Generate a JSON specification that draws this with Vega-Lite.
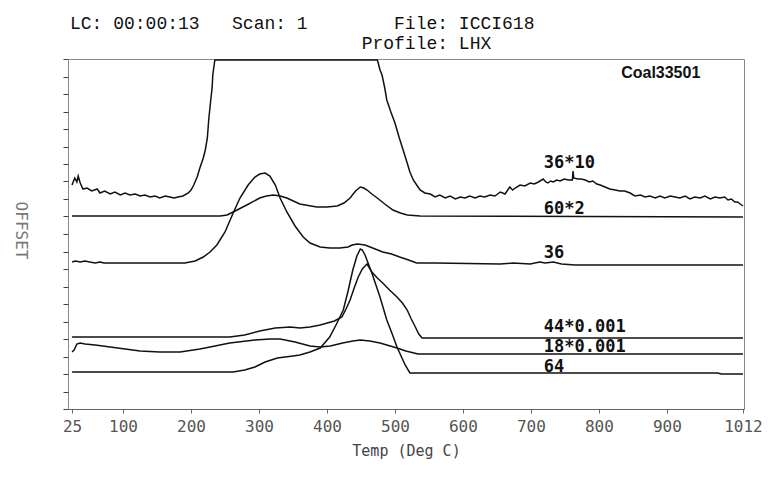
{
  "$schema": "https://vega.github.io/schema/vega-lite/v6.json",
  "width": 676,
  "height": 350,
  "autosize": "none",
  "padding": {"left": 68, "top": 59, "right": 32, "bottom": 68},
  "background": "white",
  "title": {
    "text": ["LC: 00:00:13\u00a0\u00a0\u00a0Scan: 1\u00a0\u00a0\u00a0\u00a0\u00a0\u00a0\u00a0\u00a0File: ICCI618", "\u200b\u00a0\u00a0\u00a0\u00a0\u00a0\u00a0\u00a0\u00a0\u00a0\u00a0\u00a0\u00a0\u00a0\u00a0\u00a0\u00a0\u00a0\u00a0\u00a0\u00a0\u00a0\u00a0\u00a0\u00a0\u00a0\u00a0\u00a0Profile: LHX"],
    "anchor": "start",
    "frame": "group",
    "dx": 2,
    "offset": 4,
    "font": "Liberation Mono",
    "fontSize": 18,
    "fontWeight": "normal",
    "lineHeight": 20,
    "color": "#111"
  },
  "config": {
    "view": {"stroke": "#888", "strokeWidth": 1},
    "axis": {"grid": false}
  },
  "datasets": {
    "curves": [
      {"s": "36*10", "T": 25, "v": 224}, {"s": "36*10", "T": 26, "v": 226}, {"s": "36*10", "T": 29, "v": 231}, {"s": "36*10", "T": 32, "v": 227}, {"s": "36*10", "T": 34, "v": 233}, {"s": "36*10", "T": 37, "v": 226}, {"s": "36*10", "T": 41, "v": 220}, {"s": "36*10", "T": 47, "v": 221}, {"s": "36*10", "T": 54, "v": 218}, {"s": "36*10", "T": 62, "v": 220}, {"s": "36*10", "T": 66, "v": 216}, {"s": "36*10", "T": 73, "v": 218}, {"s": "36*10", "T": 81, "v": 215}, {"s": "36*10", "T": 88, "v": 217}, {"s": "36*10", "T": 96, "v": 214}, {"s": "36*10", "T": 103, "v": 216}, {"s": "36*10", "T": 110, "v": 214}, {"s": "36*10", "T": 118, "v": 215}, {"s": "36*10", "T": 125, "v": 213}, {"s": "36*10", "T": 132, "v": 214}, {"s": "36*10", "T": 140, "v": 212}, {"s": "36*10", "T": 147, "v": 213}, {"s": "36*10", "T": 154, "v": 211}, {"s": "36*10", "T": 162, "v": 213}, {"s": "36*10", "T": 169, "v": 212}, {"s": "36*10", "T": 175, "v": 211}, {"s": "36*10", "T": 181, "v": 212}, {"s": "36*10", "T": 188, "v": 213}, {"s": "36*10", "T": 196, "v": 216}, {"s": "36*10", "T": 200, "v": 219}, {"s": "36*10", "T": 204, "v": 224}, {"s": "36*10", "T": 209, "v": 232}, {"s": "36*10", "T": 213, "v": 241}, {"s": "36*10", "T": 218, "v": 251}, {"s": "36*10", "T": 221, "v": 259}, {"s": "36*10", "T": 224, "v": 271}, {"s": "36*10", "T": 226, "v": 289}, {"s": "36*10", "T": 229, "v": 309}, {"s": "36*10", "T": 231, "v": 321}, {"s": "36*10", "T": 232, "v": 334}, {"s": "36*10", "T": 234, "v": 344}, {"s": "36*10", "T": 235, "v": 349}, {"s": "36*10", "T": 474, "v": 349}, {"s": "36*10", "T": 475, "v": 347}, {"s": "36*10", "T": 478, "v": 339}, {"s": "36*10", "T": 481, "v": 334}, {"s": "36*10", "T": 485, "v": 321}, {"s": "36*10", "T": 488, "v": 309}, {"s": "36*10", "T": 494, "v": 297}, {"s": "36*10", "T": 500, "v": 286}, {"s": "36*10", "T": 506, "v": 272}, {"s": "36*10", "T": 512, "v": 259}, {"s": "36*10", "T": 518, "v": 246}, {"s": "36*10", "T": 522, "v": 237}, {"s": "36*10", "T": 527, "v": 229}, {"s": "36*10", "T": 533, "v": 223}, {"s": "36*10", "T": 537, "v": 219}, {"s": "36*10", "T": 544, "v": 216}, {"s": "36*10", "T": 552, "v": 215}, {"s": "36*10", "T": 559, "v": 212}, {"s": "36*10", "T": 566, "v": 214}, {"s": "36*10", "T": 574, "v": 211}, {"s": "36*10", "T": 581, "v": 213}, {"s": "36*10", "T": 589, "v": 210}, {"s": "36*10", "T": 596, "v": 212}, {"s": "36*10", "T": 603, "v": 211}, {"s": "36*10", "T": 610, "v": 213}, {"s": "36*10", "T": 618, "v": 211}, {"s": "36*10", "T": 625, "v": 213}, {"s": "36*10", "T": 632, "v": 212}, {"s": "36*10", "T": 640, "v": 214}, {"s": "36*10", "T": 647, "v": 213}, {"s": "36*10", "T": 655, "v": 217}, {"s": "36*10", "T": 662, "v": 215}, {"s": "36*10", "T": 669, "v": 222}, {"s": "36*10", "T": 673, "v": 219}, {"s": "36*10", "T": 677, "v": 221}, {"s": "36*10", "T": 684, "v": 224}, {"s": "36*10", "T": 691, "v": 223}, {"s": "36*10", "T": 699, "v": 226}, {"s": "36*10", "T": 705, "v": 225}, {"s": "36*10", "T": 711, "v": 227}, {"s": "36*10", "T": 718, "v": 230}, {"s": "36*10", "T": 722, "v": 227}, {"s": "36*10", "T": 725, "v": 226}, {"s": "36*10", "T": 729, "v": 228}, {"s": "36*10", "T": 733, "v": 227}, {"s": "36*10", "T": 738, "v": 229}, {"s": "36*10", "T": 743, "v": 228}, {"s": "36*10", "T": 749, "v": 230}, {"s": "36*10", "T": 755, "v": 229}, {"s": "36*10", "T": 761, "v": 229}, {"s": "36*10", "T": 762, "v": 238}, {"s": "36*10", "T": 763, "v": 231}, {"s": "36*10", "T": 769, "v": 230}, {"s": "36*10", "T": 774, "v": 230}, {"s": "36*10", "T": 780, "v": 229}, {"s": "36*10", "T": 786, "v": 227}, {"s": "36*10", "T": 791, "v": 228}, {"s": "36*10", "T": 797, "v": 225}, {"s": "36*10", "T": 802, "v": 224}, {"s": "36*10", "T": 809, "v": 222}, {"s": "36*10", "T": 816, "v": 220}, {"s": "36*10", "T": 824, "v": 219}, {"s": "36*10", "T": 831, "v": 218}, {"s": "36*10", "T": 838, "v": 218}, {"s": "36*10", "T": 846, "v": 216}, {"s": "36*10", "T": 853, "v": 213}, {"s": "36*10", "T": 861, "v": 214}, {"s": "36*10", "T": 868, "v": 212}, {"s": "36*10", "T": 875, "v": 213}, {"s": "36*10", "T": 883, "v": 211}, {"s": "36*10", "T": 890, "v": 213}, {"s": "36*10", "T": 897, "v": 211}, {"s": "36*10", "T": 905, "v": 213}, {"s": "36*10", "T": 912, "v": 212}, {"s": "36*10", "T": 919, "v": 211}, {"s": "36*10", "T": 927, "v": 213}, {"s": "36*10", "T": 934, "v": 210}, {"s": "36*10", "T": 941, "v": 212}, {"s": "36*10", "T": 949, "v": 211}, {"s": "36*10", "T": 956, "v": 213}, {"s": "36*10", "T": 964, "v": 210}, {"s": "36*10", "T": 971, "v": 212}, {"s": "36*10", "T": 978, "v": 211}, {"s": "36*10", "T": 985, "v": 212}, {"s": "36*10", "T": 990, "v": 209}, {"s": "36*10", "T": 995, "v": 210}, {"s": "36*10", "T": 1000, "v": 207}, {"s": "36*10", "T": 1004, "v": 207}, {"s": "36*10", "T": 1008, "v": 205}, {"s": "36*10", "T": 1012, "v": 203},

      {"s": "60*2", "T": 25, "v": 193}, {"s": "60*2", "T": 243, "v": 193}, {"s": "60*2", "T": 253, "v": 194}, {"s": "60*2", "T": 262, "v": 197}, {"s": "60*2", "T": 282, "v": 204}, {"s": "60*2", "T": 301, "v": 211}, {"s": "60*2", "T": 311, "v": 213}, {"s": "60*2", "T": 321, "v": 214}, {"s": "60*2", "T": 331, "v": 213}, {"s": "60*2", "T": 341, "v": 211}, {"s": "60*2", "T": 360, "v": 205}, {"s": "60*2", "T": 385, "v": 202}, {"s": "60*2", "T": 400, "v": 202}, {"s": "60*2", "T": 415, "v": 203}, {"s": "60*2", "T": 425, "v": 206}, {"s": "60*2", "T": 434, "v": 211}, {"s": "60*2", "T": 442, "v": 218}, {"s": "60*2", "T": 449, "v": 222}, {"s": "60*2", "T": 454, "v": 221}, {"s": "60*2", "T": 459, "v": 219}, {"s": "60*2", "T": 466, "v": 215}, {"s": "60*2", "T": 474, "v": 211}, {"s": "60*2", "T": 485, "v": 205}, {"s": "60*2", "T": 497, "v": 199}, {"s": "60*2", "T": 508, "v": 196}, {"s": "60*2", "T": 518, "v": 194}, {"s": "60*2", "T": 537, "v": 193}, {"s": "60*2", "T": 1012, "v": 192},

      {"s": "36", "T": 25, "v": 147}, {"s": "36", "T": 30, "v": 148}, {"s": "36", "T": 37, "v": 147}, {"s": "36", "T": 44, "v": 148}, {"s": "36", "T": 51, "v": 147}, {"s": "36", "T": 59, "v": 146}, {"s": "36", "T": 66, "v": 147}, {"s": "36", "T": 72, "v": 146}, {"s": "36", "T": 191, "v": 146}, {"s": "36", "T": 206, "v": 148}, {"s": "36", "T": 218, "v": 152}, {"s": "36", "T": 228, "v": 157}, {"s": "36", "T": 238, "v": 164}, {"s": "36", "T": 250, "v": 177}, {"s": "36", "T": 262, "v": 196}, {"s": "36", "T": 272, "v": 211}, {"s": "36", "T": 284, "v": 224}, {"s": "36", "T": 294, "v": 232}, {"s": "36", "T": 301, "v": 235}, {"s": "36", "T": 309, "v": 236}, {"s": "36", "T": 316, "v": 233}, {"s": "36", "T": 324, "v": 224}, {"s": "36", "T": 331, "v": 211}, {"s": "36", "T": 341, "v": 197}, {"s": "36", "T": 353, "v": 183}, {"s": "36", "T": 365, "v": 172}, {"s": "36", "T": 375, "v": 166}, {"s": "36", "T": 390, "v": 162}, {"s": "36", "T": 404, "v": 161}, {"s": "36", "T": 419, "v": 161}, {"s": "36", "T": 431, "v": 162}, {"s": "36", "T": 437, "v": 164}, {"s": "36", "T": 445, "v": 165}, {"s": "36", "T": 456, "v": 164}, {"s": "36", "T": 471, "v": 160}, {"s": "36", "T": 482, "v": 157}, {"s": "36", "T": 495, "v": 155}, {"s": "36", "T": 507, "v": 152}, {"s": "36", "T": 520, "v": 149}, {"s": "36", "T": 532, "v": 146}, {"s": "36", "T": 559, "v": 146}, {"s": "36", "T": 655, "v": 145}, {"s": "36", "T": 674, "v": 146}, {"s": "36", "T": 699, "v": 145}, {"s": "36", "T": 713, "v": 147}, {"s": "36", "T": 721, "v": 146}, {"s": "36", "T": 733, "v": 147}, {"s": "36", "T": 745, "v": 145}, {"s": "36", "T": 765, "v": 144}, {"s": "36", "T": 802, "v": 144}, {"s": "36", "T": 1012, "v": 144},

      {"s": "44*0.001", "T": 25, "v": 72}, {"s": "44*0.001", "T": 257, "v": 72}, {"s": "44*0.001", "T": 279, "v": 74}, {"s": "44*0.001", "T": 301, "v": 78}, {"s": "44*0.001", "T": 324, "v": 81}, {"s": "44*0.001", "T": 346, "v": 82}, {"s": "44*0.001", "T": 360, "v": 81}, {"s": "44*0.001", "T": 375, "v": 82}, {"s": "44*0.001", "T": 390, "v": 84}, {"s": "44*0.001", "T": 411, "v": 88}, {"s": "44*0.001", "T": 422, "v": 92}, {"s": "44*0.001", "T": 428, "v": 100}, {"s": "44*0.001", "T": 434, "v": 109}, {"s": "44*0.001", "T": 440, "v": 121}, {"s": "44*0.001", "T": 446, "v": 132}, {"s": "44*0.001", "T": 452, "v": 140}, {"s": "44*0.001", "T": 456, "v": 143}, {"s": "44*0.001", "T": 459, "v": 145}, {"s": "44*0.001", "T": 466, "v": 137}, {"s": "44*0.001", "T": 474, "v": 131}, {"s": "44*0.001", "T": 482, "v": 126}, {"s": "44*0.001", "T": 492, "v": 119}, {"s": "44*0.001", "T": 503, "v": 112}, {"s": "44*0.001", "T": 511, "v": 106}, {"s": "44*0.001", "T": 518, "v": 99}, {"s": "44*0.001", "T": 524, "v": 90}, {"s": "44*0.001", "T": 530, "v": 82}, {"s": "44*0.001", "T": 535, "v": 75}, {"s": "44*0.001", "T": 540, "v": 71}, {"s": "44*0.001", "T": 1012, "v": 71},

      {"s": "18*0.001", "T": 25, "v": 57}, {"s": "18*0.001", "T": 28, "v": 59}, {"s": "18*0.001", "T": 32, "v": 65}, {"s": "18*0.001", "T": 37, "v": 66}, {"s": "18*0.001", "T": 44, "v": 65}, {"s": "18*0.001", "T": 59, "v": 64}, {"s": "18*0.001", "T": 81, "v": 62}, {"s": "18*0.001", "T": 103, "v": 60}, {"s": "18*0.001", "T": 125, "v": 58}, {"s": "18*0.001", "T": 154, "v": 57}, {"s": "18*0.001", "T": 184, "v": 57}, {"s": "18*0.001", "T": 213, "v": 60}, {"s": "18*0.001", "T": 228, "v": 62}, {"s": "18*0.001", "T": 257, "v": 66}, {"s": "18*0.001", "T": 294, "v": 69}, {"s": "18*0.001", "T": 316, "v": 70}, {"s": "18*0.001", "T": 331, "v": 70}, {"s": "18*0.001", "T": 353, "v": 67}, {"s": "18*0.001", "T": 375, "v": 63}, {"s": "18*0.001", "T": 390, "v": 62}, {"s": "18*0.001", "T": 405, "v": 63}, {"s": "18*0.001", "T": 423, "v": 66}, {"s": "18*0.001", "T": 438, "v": 68}, {"s": "18*0.001", "T": 449, "v": 69}, {"s": "18*0.001", "T": 463, "v": 68}, {"s": "18*0.001", "T": 478, "v": 66}, {"s": "18*0.001", "T": 493, "v": 63}, {"s": "18*0.001", "T": 503, "v": 61}, {"s": "18*0.001", "T": 516, "v": 58}, {"s": "18*0.001", "T": 534, "v": 55}, {"s": "18*0.001", "T": 1012, "v": 55},

      {"s": "64", "T": 25, "v": 37}, {"s": "64", "T": 262, "v": 37}, {"s": "64", "T": 279, "v": 39}, {"s": "64", "T": 294, "v": 42}, {"s": "64", "T": 309, "v": 47}, {"s": "64", "T": 327, "v": 51}, {"s": "64", "T": 350, "v": 53}, {"s": "64", "T": 360, "v": 54}, {"s": "64", "T": 375, "v": 57}, {"s": "64", "T": 390, "v": 61}, {"s": "64", "T": 404, "v": 72}, {"s": "64", "T": 414, "v": 85}, {"s": "64", "T": 424, "v": 99}, {"s": "64", "T": 431, "v": 118}, {"s": "64", "T": 438, "v": 139}, {"s": "64", "T": 444, "v": 153}, {"s": "64", "T": 449, "v": 160}, {"s": "64", "T": 452, "v": 159}, {"s": "64", "T": 456, "v": 154}, {"s": "64", "T": 461, "v": 145}, {"s": "64", "T": 466, "v": 136}, {"s": "64", "T": 478, "v": 112}, {"s": "64", "T": 488, "v": 89}, {"s": "64", "T": 496, "v": 75}, {"s": "64", "T": 503, "v": 62}, {"s": "64", "T": 515, "v": 44}, {"s": "64", "T": 522, "v": 36}, {"s": "64", "T": 975, "v": 36}, {"s": "64", "T": 980, "v": 35}, {"s": "64", "T": 1012, "v": 35}
    ],
    "labels": [
      {"T": 719, "v": 246, "label": "36*10"},
      {"T": 719, "v": 200, "label": "60*2"},
      {"T": 719, "v": 156, "label": "36"},
      {"T": 719, "v": 82, "label": "44*0.001"},
      {"T": 719, "v": 62, "label": "18*0.001"},
      {"T": 719, "v": 42, "label": "64"}
    ],
    "tag": [
      {"T": 891, "v": 336, "label": "Coal33501"}
    ]
  },
  "layer": [
    {
      "data": {"name": "curves"},
      "mark": {"type": "line", "color": "#111", "strokeWidth": 1.5, "interpolate": "linear"},
      "encoding": {
        "x": {
          "field": "T", "type": "quantitative",
          "scale": {"domain": [19, 1013.5], "nice": false, "zero": false},
          "axis": {
            "values": [25, 100, 200, 300, 400, 500, 600, 700, 800, 900, 1012],
            "format": "d",
            "title": "Temp (Deg C)",
            "titleFont": "DejaVu Sans Mono", "titleFontSize": 15, "titleFontWeight": "normal", "titleColor": "#444",
            "titlePadding": 9,
            "labelFont": "DejaVu Sans Mono", "labelFontSize": 16, "labelColor": "#555",
            "labelPadding": 5,
            "tickSize": 4, "tickColor": "#666", "domainColor": "#666",
            "labelFlush": false
          }
        },
        "y": {
          "field": "v", "type": "quantitative",
          "scale": {"domain": [0, 350], "nice": false, "zero": false},
          "axis": {
            "values": [0, 17.5, 35, 52.5, 70, 87.5, 105, 122.5, 140, 157.5, 175, 192.5, 210, 227.5, 245, 262.5, 280, 297.5, 315, 332.5, 350],
            "tickCount": 21,
            "labelOverlap": false,
            "labels": false, "domain": false,
            "tickSize": 5, "tickColor": "#444", "tickWidth": 1,
            "title": "OFFSET",
            "titleFont": "DejaVu Sans Mono", "titleFontSize": 16, "titleFontWeight": "normal", "titleColor": "#777",
            "titleAngle": 90, "titleX": -48, "titleY": 171, "titleAlign": "center", "titleBaseline": "middle"
          }
        },
        "detail": {"field": "s"}
      }
    },
    {
      "mark": {"type": "rule", "color": "#111", "strokeWidth": 1.2},
      "encoding": {"x": {"datum": 23.5, "type": "quantitative"}}
    },
    {
      "mark": {"type": "rule", "color": "#111", "strokeWidth": 1.2},
      "encoding": {"x": {"datum": 26.3, "type": "quantitative"}}
    },
    {
      "mark": {"type": "rule", "color": "#666", "strokeWidth": 1},
      "encoding": {"x": {"datum": 1011.8, "type": "quantitative"}}
    },
    {
      "data": {"name": "labels"},
      "mark": {"type": "text", "align": "left", "baseline": "middle", "font": "DejaVu Sans Mono", "fontSize": 17, "fontWeight": "bold", "color": "#111"},
      "encoding": {
        "x": {"field": "T", "type": "quantitative"},
        "y": {"field": "v", "type": "quantitative"},
        "text": {"field": "label"}
      }
    },
    {
      "data": {"name": "tag"},
      "mark": {"type": "text", "align": "center", "baseline": "middle", "font": "Liberation Sans", "fontSize": 16, "fontWeight": "bold", "color": "#111"},
      "encoding": {
        "x": {"field": "T", "type": "quantitative"},
        "y": {"field": "v", "type": "quantitative"},
        "text": {"field": "label"}
      }
    }
  ]
}
